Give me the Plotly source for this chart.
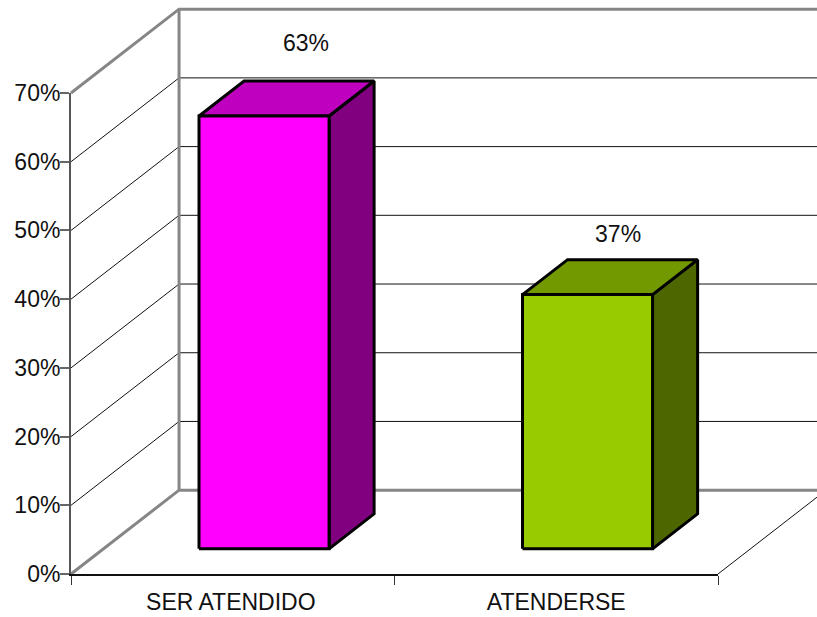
import plotly.graph_objects as go

# Chart data
categories = ["SER ATENDIDO", "ATENDERSE"]
values = [63, 37]
value_labels = ["63%", "37%"]
y_ticks = [0, 10, 20, 30, 40, 50, 60, 70]
y_tick_labels = ["0%", "10%", "20%", "30%", "40%", "50%", "60%", "70%"]

# Bar colours per category: front, top and side faces
front_colors = ["#FF00FF", "#99CC00"]
top_colors = ["#BF00BF", "#739900"]
side_colors = ["#800080", "#4D6600"]

# Canvas and position of the front plane on it
WIDTH, HEIGHT = 817, 617
FRONT_LEFT, FRONT_RIGHT = 71, 718
FRONT_BOTTOM, FRONT_TOP = 574, 93
X_MAX = 2
Y_MAX = 70
PX_PER_X = (FRONT_RIGHT - FRONT_LEFT) / X_MAX
PX_PER_Y = (FRONT_BOTTOM - FRONT_TOP) / Y_MAX

# Oblique projection of the depth axis, in data units per unit of depth
DEPTH_X = 0.334
DEPTH_Y = 12.2

# Bar placement along the category and depth axes
BAR_WIDTH = 0.402
BAR_SHIFT = -0.0035
BAR_DEPTH_FRONT = 0.30
BAR_DEPTH_BACK = 0.717

# Where each value label floats relative to its bar
LABEL_DEPTH = [0.689, 0.583]
LABEL_RISE = [5.6, 5.0]

WALL_GREY = "#868686"
FONT = dict(family="Liberation Sans", size=23, color="#111111")


def project(x, y, depth):
    return x + DEPTH_X * depth, y + DEPTH_Y * depth


def poly(points):
    xs, ys = zip(*[project(*p) for p in points])
    return list(xs), list(ys)


def line_trace(xs, ys, color, width):
    return go.Scatter(x=xs, y=ys, mode="lines", line=dict(color=color, width=width),
                      hoverinfo="skip", showlegend=False)


def face_trace(points, fill):
    xs, ys = poly(points + [points[0]])
    return go.Scatter(x=xs, y=ys, mode="lines", fill="toself", fillcolor=fill,
                      line=dict(color="black", width=3),
                      hoverinfo="skip", showlegend=False)


fig = go.Figure()

# Thin gridlines running along the side wall and the back wall
for tick in y_ticks[1:-1]:
    xs, ys = poly([(0, tick, 0), (0, tick, 1), (X_MAX, tick, 1)])
    fig.add_trace(line_trace(xs, ys, "#111111", 1))

# Right-hand edge of the floor
xs, ys = poly([(X_MAX, 0, 0), (X_MAX, 0, 1)])
fig.add_trace(line_trace(xs, ys, "#111111", 1))

# Heavy grey frame of the walls
xs, ys = poly([(0, 0, 0), (0, 0, 1), (X_MAX, 0, 1)])
fig.add_trace(line_trace(xs, ys, WALL_GREY, 3))
xs, ys = poly([(0, Y_MAX, 0), (0, Y_MAX, 1), (X_MAX, Y_MAX, 1)])
fig.add_trace(line_trace(xs, ys, WALL_GREY, 3))
xs, ys = poly([(0, 0, 1), (0, Y_MAX, 1)])
fig.add_trace(line_trace(xs, ys, WALL_GREY, 3))

# Bars as three visible faces of a box
for i, value in enumerate(values):
    left = i + 0.5 + BAR_SHIFT - BAR_WIDTH / 2
    right = left + BAR_WIDTH
    d0, d1 = BAR_DEPTH_FRONT, BAR_DEPTH_BACK
    fig.add_trace(face_trace([(right, 0, d0), (right, 0, d1), (right, value, d1), (right, value, d0)],
                             side_colors[i]))
    fig.add_trace(face_trace([(left, value, d0), (left, value, d1), (right, value, d1), (right, value, d0)],
                             top_colors[i]))
    fig.add_trace(face_trace([(left, 0, d0), (right, 0, d0), (right, value, d0), (left, value, d0)],
                             front_colors[i]))

    lx, ly = project(i + 0.5 + BAR_SHIFT, value + LABEL_RISE[i], LABEL_DEPTH[i])
    fig.add_trace(go.Scatter(x=[lx], y=[ly], mode="text", text=[value_labels[i]],
                             textposition="middle center", textfont=FONT,
                             hoverinfo="skip", showlegend=False))

# Invisible series that keeps the front-plane axes on the page
fig.add_trace(go.Scatter(x=[0.5, 1.5], y=values, mode="none", xaxis="x2", yaxis="y2",
                         hoverinfo="skip", showlegend=False))

fig.update_layout(
    width=WIDTH,
    height=HEIGHT,
    margin=dict(l=0, r=0, t=0, b=0, autoexpand=False),
    paper_bgcolor="white",
    plot_bgcolor="rgba(0,0,0,0)",
    showlegend=False,
    font=FONT,
    # Full-page axes carrying the projected marks, on the same scale as the front plane
    xaxis=dict(
        domain=[0, 1],
        range=[-FRONT_LEFT / PX_PER_X, (WIDTH - FRONT_LEFT) / PX_PER_X],
        visible=False,
    ),
    yaxis=dict(
        domain=[0, 1],
        range=[(FRONT_BOTTOM - HEIGHT) / PX_PER_Y, FRONT_BOTTOM / PX_PER_Y],
        visible=False,
    ),
    # Visible axes of the front plane
    xaxis2=dict(
        domain=[FRONT_LEFT / WIDTH, FRONT_RIGHT / WIDTH],
        anchor="y2",
        range=[0, X_MAX],
        tickmode="array",
        tickvals=[0.494, 1.5],
        ticktext=categories,
        ticks="",
        ticklabelstandoff=7,
        showgrid=False,
        zeroline=False,
        showline=True,
        linecolor="#111111",
        linewidth=1.5,
        minor=dict(tickmode="array", tickvals=[0, 1, 2], ticks="outside", ticklen=9,
                   tickwidth=1, tickcolor="#333333", showgrid=False),
    ),
    yaxis2=dict(
        domain=[1 - FRONT_BOTTOM / HEIGHT, 1 - FRONT_TOP / HEIGHT],
        anchor="x2",
        range=[0, Y_MAX],
        tickmode="array",
        tickvals=y_ticks,
        ticktext=y_tick_labels,
        ticks="outside",
        ticklen=9,
        tickwidth=2,
        tickcolor="#666666",
        ticklabelstandoff=-5,
        showgrid=False,
        zeroline=False,
        showline=True,
        linecolor="#555555",
        linewidth=2,
    ),
)

fig.write_html("out.html")
